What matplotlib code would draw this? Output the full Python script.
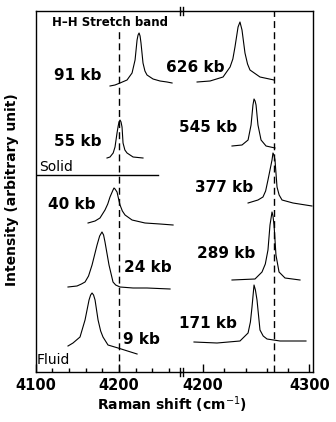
import numpy as np
import matplotlib.pyplot as plt
from matplotlib.lines import Line2D

# ---- data (wavenumber in cm-1, intensity in arbitrary units incl. offset) ----
# left panel (low pressure)
w_91 = [4189.2, 4195.2, 4201.2, 4209.6, 4215.6, 4219.2, 4220.4, 4221.6, 4222.8, 4224.0, 4225.2, 4226.3, 4228.7, 4231.0, 4233.5, 4240.7, 4249.1, 4257.5, 4263.5]
i_91 = [286, 287, 289, 292, 299, 312, 322, 332, 337, 339, 336, 329, 309, 301, 297, 293, 291, 290, 289]

w_55 = [4185.6, 4189.2, 4193.0, 4195.2, 4197.6, 4199.0, 4200.0, 4201.2, 4202.4, 4203.6, 4204.8, 4207.0, 4209.6, 4216.8, 4228.7]
i_55 = [214, 215, 219, 225, 239, 246, 250, 252, 250, 245, 229, 222, 219, 215, 214]

w_40 = [4162.9, 4171.3, 4177.2, 4183.2, 4186.5, 4189.2, 4192.8, 4194.0, 4195.2, 4197.6, 4199.5, 4201.2, 4204.0, 4207.2, 4215.6, 4231.1, 4249.1, 4264.7]
i_40 = [149, 151, 154, 162, 168, 175, 182, 184, 183, 180, 173, 167, 161, 157, 152, 149, 148, 147]

w_24 = [4138.9, 4149.7, 4155.0, 4159.3, 4163.5, 4167.7, 4173.7, 4176.8, 4179.6, 4181.5, 4183.2, 4188.0, 4192.8, 4196.0, 4201.2, 4216.8, 4233.5, 4261.1]
i_24 = [85, 86, 88, 90, 96, 107, 127, 136, 140, 137, 130, 107, 90, 87, 85, 84, 84, 83]

w_9 = [4138.9, 4144.9, 4153.3, 4159.3, 4164.1, 4166.0, 4167.7, 4169.5, 4171.3, 4174.9, 4178.0, 4180.8, 4186.8, 4198.8, 4221.6]
i_9 = [26, 29, 35, 52, 72, 77, 79, 77, 72, 52, 41, 35, 27, 24, 18]

# right panel (high pressure)
w_626 = [4194.4, 4206.6, 4218.8, 4225.4, 4228.0, 4230.0, 4232.9, 4234.7, 4236.6, 4239.4, 4241.8, 4244.1, 4253.5, 4266.7]
i_626 = [290, 291, 295, 305, 313, 325, 345, 350, 342, 319, 308, 302, 295, 292]

w_545 = [4227.2, 4236.6, 4242.3, 4245.1, 4246.9, 4247.9, 4248.9, 4249.8, 4251.6, 4254.5, 4259.2, 4267.6]
i_545 = [226, 227, 232, 247, 267, 273, 271, 267, 247, 232, 226, 224]

w_377 = [4242.3, 4251.6, 4256.3, 4258.8, 4261.0, 4264.8, 4265.7, 4266.6, 4267.6, 4269.5, 4271.5, 4274.2, 4284.5, 4302.3]
i_377 = [169, 172, 175, 181, 192, 212, 219, 217, 212, 185, 177, 172, 169, 166]

w_289 = [4227.2, 4248.8, 4255.4, 4258.5, 4261.0, 4262.9, 4264.8, 4265.7, 4266.7, 4268.5, 4271.4, 4277.0, 4291.1]
i_289 = [92, 93, 100, 108, 122, 147, 160, 156, 147, 117, 100, 94, 92]

w_171 = [4191.5, 4213.1, 4234.7, 4242.3, 4244.5, 4246.0, 4247.9, 4249.2, 4250.7, 4253.5, 4256.5, 4260.1, 4272.3, 4296.7]
i_171 = [30, 29, 31, 39, 50, 65, 87, 82, 72, 42, 36, 33, 31, 31]

W, H = 336, 422


def px(x, y):
    # pixel position -> figure fraction
    return x / W, 1 - y / H


fig = plt.figure(figsize=(W / 100, H / 100), dpi=100)
x0, x_brk, x1 = 35.5, 181, 313
y_top, y_bot = 11, 372
axL = fig.add_axes([x0 / W, 1 - y_bot / H, (x_brk - x0) / W, (y_bot - y_top) / H])
axR = fig.add_axes([x_brk / W, 1 - y_bot / H, (x1 - x_brk) / W, (y_bot - y_top) / H])

axL.set_xlim(4100, 4274.2)
axR.set_xlim(4179.3, 4303.3)
for ax in (axL, axR):
    ax.set_ylim(0, 361)
    ax.set_yticks([])
    ax.patch.set_alpha(0)
    for s in ax.spines.values():
        s.set_linewidth(1.0)
axL.spines["right"].set_visible(False)
axR.spines["left"].set_visible(False)

axL.set_xticks([4100, 4200])
axL.set_xticks([4120, 4140, 4160, 4180, 4220, 4240, 4260], minor=True)
axR.set_xticks([4200, 4300])
axR.set_xticks([4220, 4240, 4260, 4280], minor=True)
for ax in (axL, axR):
    ax.tick_params(axis="x", which="major", direction="in", length=6, width=1,
                   labelsize=10.5, pad=4)
    ax.tick_params(axis="x", which="minor", direction="in", length=3, width=1)
    for lab in ax.get_xticklabels():
        lab.set_fontweight("bold")

lw = 0.8
for w, i in [(w_91, i_91), (w_55, i_55), (w_40, i_40), (w_24, i_24), (w_9, i_9)]:
    axL.plot(w, i, color="black", lw=lw)
for w, i in [(w_626, i_626), (w_545, i_545), (w_377, i_377), (w_289, i_289), (w_171, i_171)]:
    axR.plot(w, i, color="black", lw=lw)

# reference lines
axL.axvline(4200, ymax=0.953, color="black", lw=1, ls=(0, (5, 3)))
axR.axvline(4267, color="black", lw=1, ls=(0, (5, 3)))
# solid / fluid boundary
axL.plot([4100, 4246.7], [197, 197], color="black", lw=1)

# axis break marks
for yb in (y_top, y_bot):
    for xb in (179.5, 183):
        fig.add_artist(Line2D([xb / W, xb / W], [1 - (yb - 4) / H, 1 - (yb + 4) / H],
                              color="black", lw=1))

fs = 11
labels = [("91 kb", 78, 75), ("55 kb", 78, 141), ("40 kb", 72, 205),
          ("24 kb", 148, 268), ("9 kb", 141, 340),
          ("626 kb", 195, 67), ("545 kb", 208, 127), ("377 kb", 224, 187),
          ("289 kb", 226, 253), ("171 kb", 208, 323)]
for t, x, y in labels:
    fig.text(*px(x, y), t, ha="center", va="center", fontsize=fs, fontweight="bold")

fig.text(*px(39, 167), "Solid", ha="left", va="center", fontsize=10)
fig.text(*px(37, 360), "Fluid", ha="left", va="center", fontsize=10)
fig.text(*px(110, 22), "H\u2013H Stretch band", ha="center", va="center",
         fontsize=8.5, fontweight="bold")
fig.text(*px(12, 190), "Intensity (arbitrary unit)", ha="center", va="center",
         rotation=90, fontsize=10, fontweight="bold")
fig.text(*px(172, 405), "Raman shift (cm$^{-1}$)", ha="center", va="center",
         fontsize=10, fontweight="bold")

fig.savefig("out.png", dpi=100)
